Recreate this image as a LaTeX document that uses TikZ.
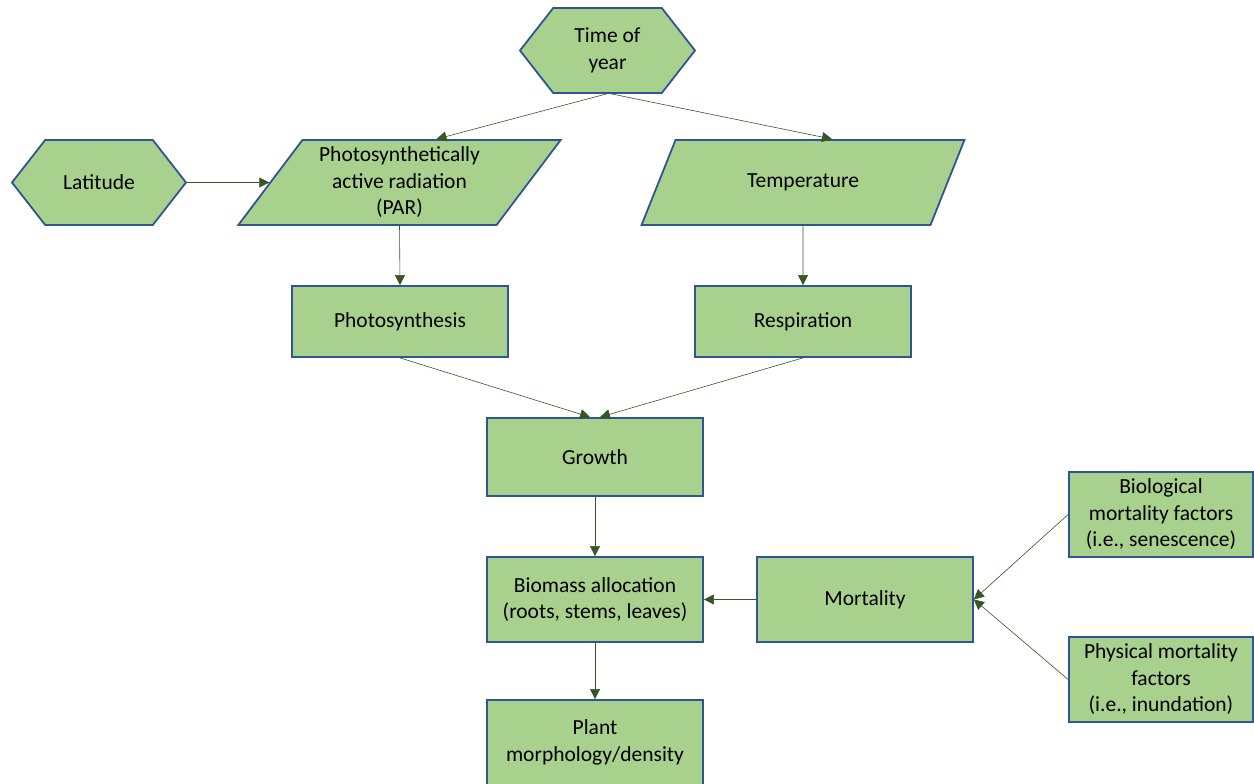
\documentclass[tikz,border=0pt]{standalone}
\usepackage{fontspec}
\setmainfont{Carlito}
\usepackage{xcolor}
\usetikzlibrary{arrows.meta, shapes.geometric, shapes.symbols}
\definecolor{leaf}{HTML}{A9D18E}
\definecolor{edge}{HTML}{2F5597}
\definecolor{stem}{HTML}{375623}

\begin{document}
\begin{tikzpicture}[
  x=1pt, y=-1pt,
  font=\fontsize{21.5}{26.5}\selectfont,
  box/.style={draw=edge, fill=leaf, line width=1.8pt, align=center,
              minimum width=216pt, minimum height=85pt, inner sep=2pt},
  hexa/.style={box, shape=signal, signal to=east and west,
               signal pointer angle=104, minimum width=175pt},
  para/.style={box, trapezium, trapezium left angle=54, trapezium right angle=126,
               trapezium stretches=true, minimum width=323pt},
  ar/.style={-{Triangle[length=10pt,width=10pt]}, draw=stem, line width=0.6pt}
]
\useasboundingbox (0,0) rectangle (1254,784);
\clip (0,0) rectangle (1254,784);

\node[hexa] (year) at (607.5,50.5) {Time of\\year};
\node[hexa, minimum width=174pt] (lat) at (99,182.5) {Latitude};
\node[para] (par) at (399.5,182.5) {Photosynthetically\\active radiation\\(PAR)};
\node[para] (temp) at (803,182.5) {Temperature};
\node[box, minimum height=71pt] (photo) at (400,321.5) {Photosynthesis};
\node[box, minimum height=71pt] (resp) at (803,321.5) {Respiration};
\node[box, minimum height=78pt] (growth) at (595,457) {Growth};
\node[box] (biomass) at (595,599.5) {Biomass allocation\\(roots, stems, leaves)};
\node[box] (plant) at (595,742.5) {Plant\\morphology/density};
\node[box] (mort) at (865,599.5) {Mortality};
\node[box, minimum width=184pt] (bio) at (1161,514.5) {Biological\\mortality factors\\(i.e., senescence)};
\node[box, minimum width=184pt] (phys) at (1161,679.5) {Physical mortality\\factors\\(i.e., inundation)};

\draw[ar] ([xshift=-1pt]year.south) -- ([xshift=37pt]par.north);
\draw[ar] ([xshift=4pt]year.south) -- ([xshift=29pt]temp.north);
\draw[ar] (lat.east) -- (par.west);
\draw[ar] (par.south) -- (photo.north);
\draw[ar] (temp.south) -- (resp.north);
\draw[ar] (photo.south) -- ([xshift=-5pt]growth.north);
\draw[ar] (resp.south) -- ([xshift=5pt]growth.north);
\draw[ar] (growth.south) -- (biomass.north);
\draw[ar] (mort.west) -- (biomass.east);
\draw[ar] (bio.west) -- (mort.east);
\draw[ar] (phys.west) -- (mort.east);
\draw[ar] (biomass.south) -- (plant.north);
\end{tikzpicture}
\end{document}
